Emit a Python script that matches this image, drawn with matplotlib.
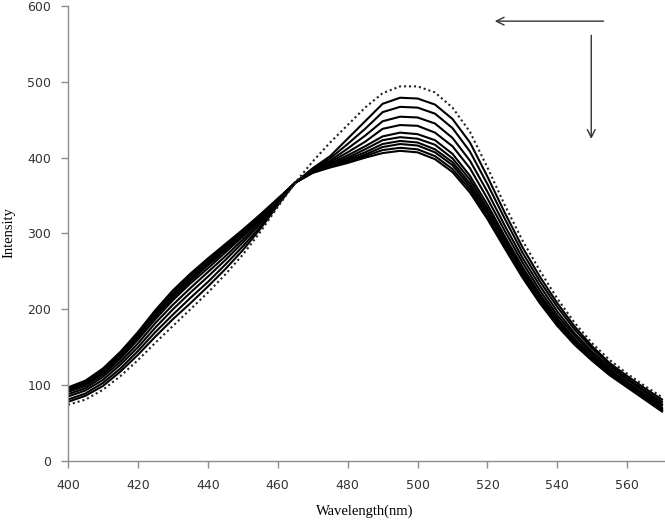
"""Fluorescence titration spectra: intensity vs wavelength."""

import matplotlib

matplotlib.use("Agg")
import matplotlib.pyplot as plt

WAVELENGTHS = [400, 405, 410, 415, 420, 425, 430, 435, 440, 445, 450, 455,
               460, 465, 470, 475, 480, 485, 490, 495, 500, 505, 510, 515,
               520, 525, 530, 535, 540, 545, 550, 555, 560, 565, 570]

# free probe (dotted)
FREE = [74, 81, 94, 112, 133, 156, 178, 200, 222, 246, 272, 302, 335, 367,
        395, 420, 443, 466, 485, 494, 494, 486, 466, 434, 387, 337, 291, 251,
        214, 182, 155, 133, 115, 99, 84]

# titration steps (solid)
STEP_1 = [78, 86, 99, 118, 140, 164, 187, 208, 230, 253, 278, 306, 337, 367,
          386, 402, 425, 448, 471, 479, 478, 470, 451, 420, 375, 327, 282, 243,
          208, 177, 151, 129, 112, 96, 81]
STEP_2 = [81, 89, 103, 122, 145, 170, 193, 215, 236, 259, 283, 309, 339, 367,
          385, 399, 418, 438, 460, 467, 466, 458, 439, 408, 365, 319, 275, 237,
          203, 173, 148, 127, 109, 93, 78]
STEP_3 = [85, 93, 107, 127, 150, 176, 200, 222, 243, 265, 288, 313, 340, 367,
          384, 396, 412, 429, 448, 454, 453, 445, 426, 396, 355, 310, 268, 231,
          197, 168, 144, 124, 107, 91, 75]
STEP_4 = [88, 96, 111, 131, 155, 182, 206, 228, 249, 270, 292, 316, 342, 367,
          383, 394, 407, 421, 438, 443, 442, 433, 415, 386, 346, 303, 262, 225,
          192, 165, 141, 121, 104, 88, 73]
STEP_5 = [91, 99, 114, 135, 160, 187, 212, 234, 254, 275, 296, 319, 343, 367,
          382, 392, 403, 415, 428, 433, 431, 423, 405, 376, 338, 296, 256, 220,
          188, 161, 138, 119, 102, 86, 70]
STEP_6 = [92, 101, 116, 137, 162, 190, 215, 237, 258, 278, 298, 320, 344, 367,
          382, 391, 400, 411, 423, 427, 425, 417, 399, 371, 333, 292, 252, 217,
          186, 159, 137, 117, 101, 85, 69]
STEP_7 = [94, 102, 118, 139, 165, 193, 218, 240, 260, 280, 300, 322, 344, 367,
          381, 390, 398, 407, 418, 422, 420, 411, 394, 366, 329, 289, 249, 214,
          183, 157, 135, 116, 100, 84, 68]
STEP_8 = [95, 104, 119, 141, 166, 195, 220, 242, 263, 282, 302, 323, 345, 367,
          381, 389, 396, 404, 414, 418, 416, 407, 390, 362, 326, 286, 247, 212,
          182, 156, 134, 115, 99, 83, 67]
STEP_9 = [96, 105, 121, 142, 168, 197, 223, 245, 265, 284, 303, 324, 345, 367,
          380, 388, 394, 402, 410, 413, 411, 402, 385, 358, 322, 283, 244, 210,
          180, 154, 133, 114, 98, 82, 66]
STEP_10 = [97, 106, 122, 144, 170, 199, 225, 247, 267, 286, 305, 325, 346, 367,
           380, 387, 393, 400, 406, 409, 407, 398, 381, 354, 319, 280, 242, 208,
           178, 153, 132, 113, 97, 81, 65]

STEPS = [STEP_1, STEP_2, STEP_3, STEP_4, STEP_5, STEP_6, STEP_7, STEP_8,
         STEP_9, STEP_10]

X_TICKS = [400, 420, 440, 460, 480, 500, 520, 540, 560]
Y_TICKS = [0, 100, 200, 300, 400, 500, 600]

AXIS_GRAY = "#8c8c8c"
TEXT_GRAY = "#333333"


def main() -> None:
    fig = plt.figure(figsize=(6.65, 5.21), dpi=100)
    fig.patch.set_facecolor("white")
    ax = fig.add_axes([0.1023, 0.1152, 0.8977, 0.8733])

    for step in STEPS:
        ax.plot(WAVELENGTHS, step, color="black", lw=1.5,
                solid_joinstyle="round", solid_capstyle="round")
    ax.plot(WAVELENGTHS, FREE, color="#222222", lw=1.5, linestyle=(0, (1, 1.4)))

    # direction arrows
    ax.annotate("", xy=(521.3, 580), xytext=(554, 580),
                arrowprops=dict(arrowstyle="->", color=TEXT_GRAY, lw=1.0,
                                mutation_scale=14))
    ax.annotate("", xy=(549.7, 421), xytext=(549.7, 565),
                arrowprops=dict(arrowstyle="->", color=TEXT_GRAY, lw=1.0,
                                mutation_scale=14))

    ax.set_xlim(400, 570.8)
    ax.set_ylim(0, 600)
    ax.set_xticks(X_TICKS)
    ax.set_yticks(Y_TICKS)
    for side in ("top", "right"):
        ax.spines[side].set_visible(False)
    for side in ("left", "bottom"):
        ax.spines[side].set_color(AXIS_GRAY)
        ax.spines[side].set_linewidth(1.0)
    ax.tick_params(axis="both", direction="out", length=5, width=1.0,
                   color=AXIS_GRAY, labelcolor=TEXT_GRAY, labelsize=9)
    ax.tick_params(axis="x", pad=8)
    ax.tick_params(axis="y", pad=7)

    fig.text(0.549, 0.019, "Wavelength(nm)", family="Liberation Serif",
             fontsize=10.5, color="black", ha="center", va="center")
    fig.text(0.014, 0.553, "Intensity", family="Liberation Serif",
             fontsize=10.5, color="black", ha="center", va="center",
             rotation=90)

    fig.savefig("out.png", dpi=100, facecolor="white")
    plt.close(fig)


if __name__ == "__main__":
    main()
